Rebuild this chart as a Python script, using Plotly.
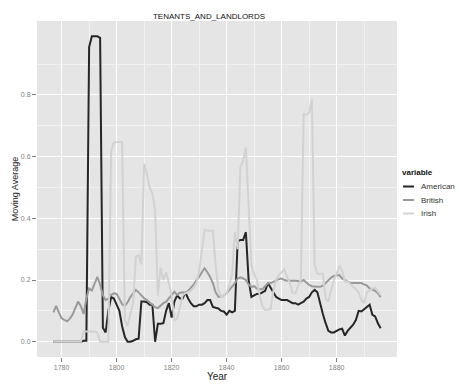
import plotly.graph_objects as go

years = list(range(1777, 1897))

american = [
    0, 0, 0, 0, 0, 0, 0, 0, 0, 0,            # 1777-1786
    0, 0.003, 0.003, 0.955, 0.99, 0.99, 0.99, 0.985, 0.045, 0.03,  # 1787-1796
    0.1, 0.145, 0.14, 0.12, 0.1, 0.05, 0.015, 0.0, 0.0, 0.003,     # 1797-1806
    0.008, 0.01, 0.13, 0.13, 0.128, 0.12, 0.12, 0.0, 0.058, 0.058,  # 1807-1816
    0.06, 0.1, 0.125, 0.078, 0.13, 0.15, 0.14, 0.14, 0.16, 0.14,    # 1817-1826
    0.125, 0.115, 0.115, 0.12, 0.12, 0.125, 0.135, 0.135, 0.113, 0.11,  # 1827-1836
    0.108, 0.1, 0.098, 0.088, 0.1, 0.095, 0.1, 0.325, 0.33, 0.33,   # 1837-1846
    0.355, 0.2, 0.145, 0.15, 0.155, 0.155, 0.16, 0.165, 0.19, 0.175,  # 1847-1856
    0.16, 0.145, 0.14, 0.135, 0.135, 0.135, 0.13, 0.125, 0.125, 0.12,  # 1857-1866
    0.125, 0.13, 0.14, 0.145, 0.16, 0.168, 0.16, 0.12, 0.09, 0.06,   # 1867-1876
    0.035, 0.03, 0.03, 0.035, 0.04, 0.042, 0.02, 0.035, 0.045, 0.055,  # 1877-1886
    0.07, 0.1, 0.098, 0.105, 0.115, 0.12, 0.087, 0.082, 0.06, 0.044,   # 1887-1896
]

british = [
    0.095, 0.116, 0.095, 0.076, 0.071, 0.066, 0.075, 0.088, 0.11, 0.13,   # 1777-1786
    0.115, 0.09, 0.14, 0.173, 0.166, 0.19, 0.21, 0.185, 0.15, 0.135,      # 1787-1796
    0.14, 0.152, 0.157, 0.155, 0.14, 0.122, 0.116, 0.128, 0.145, 0.157,   # 1797-1806
    0.168, 0.16, 0.15, 0.141, 0.135, 0.128, 0.12, 0.112, 0.109, 0.118,    # 1807-1816
    0.125, 0.13, 0.14, 0.15, 0.162, 0.152, 0.159, 0.16, 0.159, 0.165,     # 1817-1826
    0.175, 0.185, 0.2, 0.21, 0.225, 0.238, 0.225, 0.21, 0.19, 0.16,       # 1827-1836
    0.146, 0.146, 0.15, 0.157, 0.168, 0.178, 0.19, 0.205, 0.209, 0.205,   # 1837-1846
    0.2, 0.185, 0.178, 0.18, 0.172, 0.17, 0.17, 0.18, 0.189, 0.19,        # 1847-1856
    0.195, 0.2, 0.203, 0.205, 0.2, 0.198, 0.197, 0.198, 0.198, 0.196,     # 1857-1866
    0.195, 0.2, 0.192, 0.184, 0.18, 0.178, 0.178, 0.178, 0.182, 0.19,     # 1867-1876
    0.2, 0.208, 0.213, 0.215, 0.216, 0.205, 0.2, 0.195, 0.19, 0.19,       # 1877-1886
    0.19, 0.19, 0.19, 0.186, 0.182, 0.173, 0.17, 0.165, 0.157, 0.144,     # 1887-1896
]

irish = [
    0, 0, 0, 0, 0, 0, 0, 0, 0, 0,                                   # 1777-1786
    0, 0.033, 0.033, 0.033, 0.033, 0.033, 0.03, 0.0, 0.0, 0.0,      # 1787-1796
    0.0, 0.62, 0.645, 0.647, 0.647, 0.647, 0.07, 0.05, 0.09, 0.125, # 1797-1806
    0.275, 0.28, 0.25, 0.576, 0.544, 0.5, 0.48, 0.426, 0.15, 0.24,  # 1807-1816
    0.2, 0.225, 0.19, 0.15, 0.07, 0.075, 0.11, 0.15, 0.157, 0.16,   # 1817-1826
    0.165, 0.175, 0.19, 0.23, 0.3, 0.363, 0.36, 0.36, 0.36, 0.25,   # 1827-1836
    0.168, 0.145, 0.15, 0.155, 0.185, 0.22, 0.356, 0.3, 0.566, 0.587,  # 1837-1846
    0.63, 0.42, 0.25, 0.22, 0.2, 0.15, 0.115, 0.103, 0.103, 0.105,  # 1847-1856
    0.165, 0.2, 0.215, 0.227, 0.235, 0.21, 0.19, 0.157, 0.157, 0.18,  # 1857-1866
    0.2, 0.738, 0.735, 0.742, 0.786, 0.25, 0.22, 0.22, 0.22, 0.14,  # 1867-1876
    0.13, 0.168, 0.2, 0.22, 0.245, 0.23, 0.195, 0.195, 0.185, 0.178,  # 1877-1886
    0.17, 0.16, 0.135, 0.125, 0.16, 0.168, 0.173, 0.175, 0.165, 0.152,  # 1887-1896
]

series_names = ["American", "British", "Irish"]
series_values = [american, british, irish]
series_colors = ["#262626", "#9a9a9a", "#d2d2d2"]

x_ticks = [1780, 1800, 1820, 1840, 1860, 1880]
y_ticks = [0.0, 0.2, 0.4, 0.6, 0.8]
y_tick_labels = ["0.0", "0.2", "0.4", "0.6", "0.8"]

W, H = 460, 384
L, R, T, B = 37, 63, 21, 27
pw, ph = W - L - R, H - T - B

def px_to_paper(px, py):
    return (px - L) / pw, (H - B - py) / ph

fig = go.Figure()
for name, vals, col in zip(series_names, series_values, series_colors):
    fig.add_trace(go.Scatter(x=years, y=vals, mode="lines", name=name,
                             line=dict(color=col, width=2), showlegend=False))

font_family = "Liberation Sans, Arial, sans-serif"

# Legend drawn as real text + key lines (ggplot-style compact legend)
annotations = []
shapes = []
lx, ly = px_to_paper(400, 173)
annotations.append(dict(text="<b>variable</b>", x=lx, y=ly, xref="paper", yref="paper",
                        xanchor="left", yanchor="middle", showarrow=False,
                        font=dict(size=8, color="#111111")))
for i, (name, col) in enumerate(zip(series_names, series_colors)):
    py = 186.5 + i * 13.5
    x0, yy = px_to_paper(403, py)
    x1, _ = px_to_paper(414, py)
    shapes.append(dict(type="line", xref="paper", yref="paper", x0=x0, x1=x1, y0=yy, y1=yy,
                       line=dict(color=col, width=2)))
    tx, _ = px_to_paper(419, py)
    annotations.append(dict(text=name, x=tx, y=yy, xref="paper", yref="paper",
                            xanchor="left", yanchor="middle", showarrow=False,
                            font=dict(size=8, color="#333333")))

fig.update_layout(
    width=W, height=H,
    margin=dict(l=L, r=R, t=T, b=B, autoexpand=False),
    paper_bgcolor="white",
    plot_bgcolor="#E5E5E5",
    font=dict(family=font_family, size=8, color="#000000"),
    title=dict(text="TENANTS_AND_LANDLORDS", x=209 / W, xanchor="center",
               y=1 - 16 / H, yanchor="middle",
               font=dict(size=8, color="#111111")),
    showlegend=False,
    annotations=annotations,
    shapes=shapes,
)
fig.update_xaxes(
    range=[1771.05, 1901.95], tickvals=x_ticks, automargin=False,
    ticks="outside", ticklen=4, tickcolor="#7f7f7f",
    tickfont=dict(size=7, color="#7f7f7f"),
    showgrid=True, gridcolor="#FFFFFF", gridwidth=1.2, zeroline=False,
    showline=False,
    minor=dict(tickvals=[1770, 1790, 1810, 1830, 1850, 1870, 1890],
               showgrid=True, gridcolor="#F2F2F2", gridwidth=0.6, ticks=""),
    title=dict(text="Year", font=dict(size=10, color="#222222"), standoff=2),
)
fig.update_yaxes(
    range=[-0.0495, 1.0395], tickvals=y_ticks, ticktext=y_tick_labels, automargin=False,
    ticks="outside", ticklen=4, tickcolor="#7f7f7f",
    tickfont=dict(size=7, color="#7f7f7f"),
    showgrid=True, gridcolor="#FFFFFF", gridwidth=1.2, zeroline=False,
    showline=False,
    minor=dict(tickvals=[0.1, 0.3, 0.5, 0.7, 0.9],
               showgrid=True, gridcolor="#F2F2F2", gridwidth=0.6, ticks=""),
    title=dict(text="Moving Average", font=dict(size=9, color="#222222"), standoff=0),
)

fig.write_html("out.html", config={"displayModeBar": False},
               post_script="document.body.style.margin='0';")
